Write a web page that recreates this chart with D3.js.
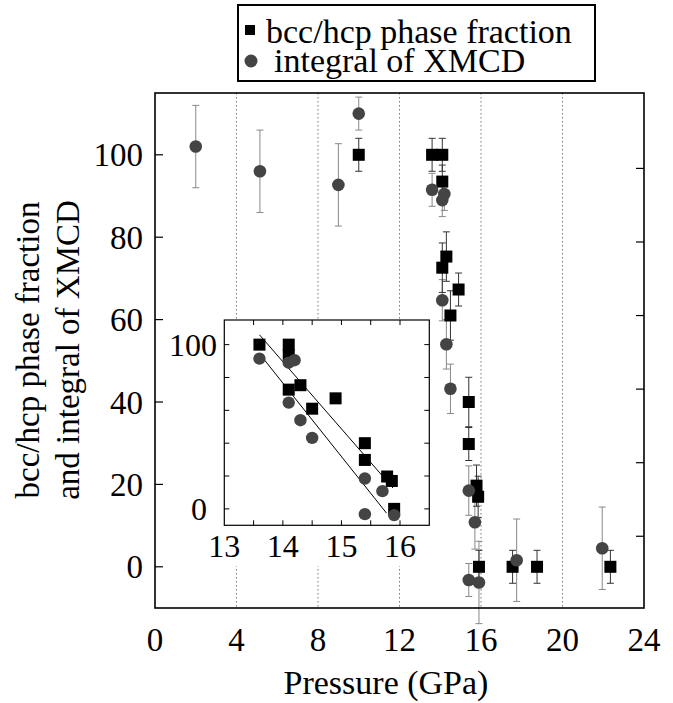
<!DOCTYPE html>
<html><head><meta charset="utf-8">
<script src="https://cdn.jsdelivr.net/npm/d3@7"></script>
<style>
body{margin:0;background:#fff}
svg{display:block}
</style>
</head><body>
<svg id="c" width="673" height="703" font-family="'Liberation Serif', 'Times New Roman', Tinos, 'DejaVu Serif', serif"></svg>
<script>
// ---- data ----
const phaseP   = [10.0, 13.6, 14.1, 14.1, 14.1, 14.3, 14.5, 14.9, 15.4, 15.4, 15.78, 15.86, 15.9, 17.55, 18.75, 22.35];
const phaseV   = [100, 100, 100, 93.5, 72.6, 75.3, 61, 67.3, 40, 29.8, 19.7, 17, 0, 0, 0, 0];
const phaseErr = [4, 4, 4, 4, 6, 6, 6, 4, 6, 4, 5, 5, 4, 4, 4, 4];
const xmcdP    = [2.0, 5.15, 9.0, 10.0, 13.6, 14.1, 14.2, 14.1, 14.3, 14.5, 15.4, 15.7, 15.4, 15.9, 17.75, 21.95];
const xmcdV    = [102, 96, 92.7, 110, 91.5, 89, 90.5, 64.7, 54, 43.2, 18.5, 10.8, -3.2, -3.8, 1.6, 4.5];
const xmcdErr  = [10, 10, 10, 4, 4, 4, 4, 5, 6, 6, 6, 6.5, 4, 10, 10, 10];
const xTicks = [0, 4, 8, 12, 16, 20, 24];
const gridX = [4, 8, 12, 16, 20];
const yTicks = [0, 20, 40, 60, 80, 100];
const rightTicks = [0, 20, 40, 60, 80, 100];
const insetXLabels = [13, 14, 15, 16];
const insetXTicks = [13.5, 14, 14.5, 15, 15.5, 16];
const insetYTicks = [0, 20, 40, 60, 80, 100];
const insetYLabels = [0, 100];
const fitUpper = [[13.6, 106], [15.88, 12.7]];
const fitLower = [[13.6, 94.5], [15.77, -2.6]];
const legendLabels = ["bcc/hcp phase fraction", "integral of XMCD"];
const xTitle = "Pressure (GPa)";
const yTitle = ["bcc/hcp phase fraction", "and integral of XMCD"];

const phase = phaseP.map((p, i) => ({p, v: phaseV[i], e: phaseErr[i]}));
const xmcd = xmcdP.map((p, i) => ({p, v: xmcdV[i], e: xmcdErr[i]}));

const FONT = "'Liberation Serif', 'Times New Roman', Tinos, 'DejaVu Serif', serif";
const svg = d3.select("#c");
const L = 155, R = 644, T = 93, B = 608;
const x = d3.scaleLinear([0, 24], [L, R]);
const y = d3.scaleLinear([-10, 115], [B, T]);
const yR = d3.scaleLinear([-19.5, 120.5], [B, T]);

const CIRC = "#444", SQ = "#000";

function txt(g) { return g.append("text").attr("font-family", FONT).attr("fill", "#000"); }

// gridlines
svg.append("g").selectAll("line").data(gridX).join("line")
  .attr("x1", d => x(d)).attr("x2", d => x(d)).attr("y1", T).attr("y2", B)
  .attr("stroke", "#777").attr("stroke-width", 1).attr("stroke-dasharray", "1.5,2.5");

function drawData(g, sx, sy, sqData, cData, withErr, r) {
  const eb = (data, col) => {
    const gg = g.append("g").attr("stroke", col).attr("stroke-width", 1);
    gg.selectAll("line.v").data(data).join("line").attr("class", "v")
      .attr("x1", d => sx(d.p)).attr("x2", d => sx(d.p))
      .attr("y1", d => sy(d.v - d.e)).attr("y2", d => sy(d.v + d.e));
    gg.selectAll("line.t").data(data).join("line").attr("class", "t")
      .attr("x1", d => sx(d.p) - 3.5).attr("x2", d => sx(d.p) + 3.5)
      .attr("y1", d => sy(d.v + d.e)).attr("y2", d => sy(d.v + d.e));
    gg.selectAll("line.b").data(data).join("line").attr("class", "b")
      .attr("x1", d => sx(d.p) - 3.5).attr("x2", d => sx(d.p) + 3.5)
      .attr("y1", d => sy(d.v - d.e)).attr("y2", d => sy(d.v - d.e));
  };
  if (withErr) { eb(cData, "#888"); eb(sqData, "#333"); }
  g.append("g").selectAll("rect").data(sqData).join("rect")
    .attr("x", d => sx(d.p) - 6).attr("y", d => sy(d.v) - 6)
    .attr("width", 12).attr("height", 12).attr("fill", SQ);
  g.append("g").selectAll("circle").data(cData).join("circle")
    .attr("cx", d => sx(d.p)).attr("cy", d => sy(d.v)).attr("r", r).attr("fill", CIRC);
}

// main data
const mainG = svg.append("g");
drawData(mainG, x, y, phase, xmcd, true, 6.3);

// ---- inset ----
const IL = 224.3, IR = 429.3, IT = 320, IB = 525.3;
const ix = d3.scaleLinear([13, 16.5], [IL, IR]);
const iy = d3.scaleLinear([-10, 115], [IB, IT]);
svg.append("rect").attr("x", 166).attr("y", IT - 1).attr("width", IR - 166 + 1.5).attr("height", 566 - IT + 1).attr("fill", "#fff");
const ins = svg.append("g");
ins.append("defs").append("clipPath").attr("id", "ic").append("rect")
  .attr("x", IL).attr("y", IT).attr("width", IR - IL).attr("height", IB - IT);
const insData = ins.append("g").attr("clip-path", "url(#ic)");
[fitUpper, fitLower].forEach(f => {
  insData.append("line")
    .attr("x1", ix(f[0][0])).attr("y1", iy(f[0][1]))
    .attr("x2", ix(f[1][0])).attr("y2", iy(f[1][1]))
    .attr("stroke", "#000").attr("stroke-width", 1);
});
drawData(insData, ix, iy,
  phase.filter(d => d.p >= 13 && d.p <= 16.5),
  xmcd.filter(d => d.p >= 13 && d.p <= 16.5), false, 6.2);
ins.append("rect").attr("x", IL).attr("y", IT).attr("width", IR - IL).attr("height", IB - IT)
  .attr("fill", "none").attr("stroke", "#000").attr("stroke-width", 1.2);
const it = ins.append("g").attr("stroke", "#000").attr("stroke-width", 1);
insetYTicks.forEach(v => {
  it.append("line").attr("x1", IL).attr("x2", IL + 5).attr("y1", iy(v)).attr("y2", iy(v));
  it.append("line").attr("x1", IR).attr("x2", IR - 5).attr("y1", iy(v)).attr("y2", iy(v));
});
insetXTicks.forEach(v => {
  it.append("line").attr("x1", ix(v)).attr("x2", ix(v)).attr("y1", IT).attr("y2", IT + 5);
  it.append("line").attr("x1", ix(v)).attr("x2", ix(v)).attr("y1", IB).attr("y2", IB - 5);
});
insetXLabels.forEach(d => txt(ins).attr("x", ix(d)).attr("y", 557).attr("text-anchor", "middle")
  .attr("font-size", 32).text(d));
insetYLabels.forEach(d => txt(ins).attr("x", d === 0 ? 207 : 217).attr("y", iy(d)).attr("dy", "0.35em")
  .attr("text-anchor", "end").attr("font-size", 32).text(d));

// ---- main frame & axes ----
svg.append("rect").attr("x", L).attr("y", T).attr("width", R - L).attr("height", B - T)
  .attr("fill", "none").attr("stroke", "#000").attr("stroke-width", 1.6);
const tk = svg.append("g").attr("stroke", "#000").attr("stroke-width", 1.2);
yTicks.forEach(v => tk.append("line").attr("x1", L).attr("x2", L + 8).attr("y1", y(v)).attr("y2", y(v)));
rightTicks.forEach(v => tk.append("line").attr("x1", R).attr("x2", R - 8).attr("y1", yR(v)).attr("y2", yR(v)));

xTicks.forEach(d => txt(svg).attr("x", x(d)).attr("y", 651).attr("text-anchor", "middle")
  .attr("font-size", 33).text(d));
yTicks.forEach(d => txt(svg).attr("x", 143).attr("y", y(d)).attr("dy", "0.35em").attr("text-anchor", "end")
  .attr("font-size", 33).text(d));

txt(svg).attr("x", 386).attr("y", 694).attr("text-anchor", "middle")
  .attr("font-size", 34).text(xTitle);
[38.5, 79].forEach((bx, i) => {
  txt(svg).attr("transform", `translate(${bx},350) rotate(-90)`)
    .attr("text-anchor", "middle").attr("font-size", 33).text(yTitle[i]);
});

// ---- legend ----
const lg = svg.append("g");
lg.append("rect").attr("x", 238).attr("y", 5).attr("width", 357).attr("height", 76)
  .attr("fill", "#fff").attr("stroke", "#000").attr("stroke-width", 2);
lg.append("rect").attr("x", 245).attr("y", 25).attr("width", 10).attr("height", 10).attr("fill", SQ);
lg.append("circle").attr("cx", 251).attr("cy", 61).attr("r", 6.5).attr("fill", CIRC);
txt(lg).attr("x", 266).attr("y", 43).attr("font-size", 34).text(legendLabels[0]);
txt(lg).attr("x", 274).attr("y", 72).attr("font-size", 34).text(legendLabels[1]);
</script>
</body></html>
